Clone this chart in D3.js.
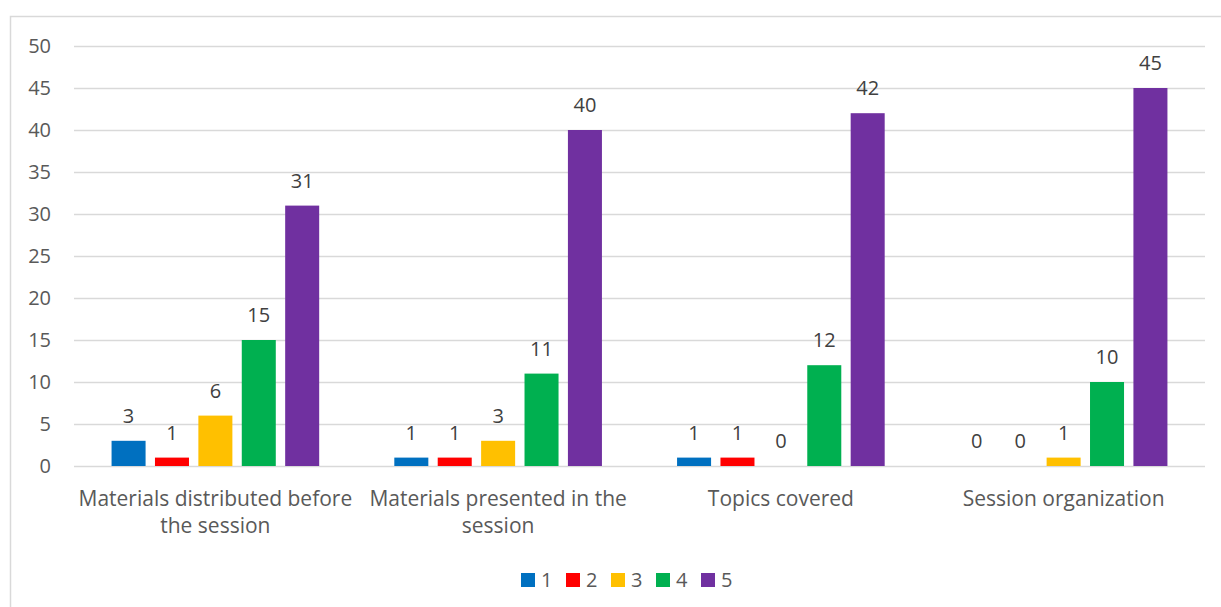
<!DOCTYPE html>
<html>
<head>
<meta charset="utf-8">
<script src="https://cdn.jsdelivr.net/npm/d3@7"></script>
<style>
  html, body { margin: 0; padding: 0; background: #fff; }
  svg { display: block; }
  text { font-family: "Open Sans", "Liberation Sans", sans-serif; }
</style>
</head>
<body>
<svg id="chart" width="1221" height="607"></svg>
<script>
// Survey ratings (1 = lowest, 5 = highest) per session aspect
const categories = [
  ["Materials distributed before", "the session"],
  ["Materials presented in the", "session"],
  ["Topics covered"],
  ["Session organization"]
];
const seriesNames = ["1", "2", "3", "4", "5"];
const seriesColors = ["#0070C0", "#FF0000", "#FFC000", "#00B050", "#7030A0"];
const rating1 = [3, 1, 1, 0];
const rating2 = [1, 1, 1, 0];
const rating3 = [6, 3, 0, 1];
const rating4 = [15, 11, 12, 10];
const rating5 = [31, 40, 42, 45];
const yTicks = [0, 5, 10, 15, 20, 25, 30, 35, 40, 45, 50];

const series = [rating1, rating2, rating3, rating4, rating5];

const svg = d3.select("#chart");
const W = 1221, H = 607;

// chart frame
svg.append("rect")
  .attr("x", 10.5).attr("y", 16.5)
  .attr("width", W + 10).attr("height", H)
  .attr("fill", "#fff").attr("stroke", "#D9D9D9").attr("stroke-width", 1.5);

const plot = { left: 74, right: 1205, top: 46, bottom: 466 };

const y = d3.scaleLinear().domain([0, 50]).range([plot.bottom, plot.top]);
const x0 = d3.scaleBand().domain(d3.range(categories.length))
  .range([plot.left, plot.right]).paddingInner(0).paddingOuter(0);
const band = x0.bandwidth();
const step = band * 0.1535;
const barW = band * 0.1203;
const x1 = d3.scaleBand().domain(d3.range(series.length))
  .range([band / 2 - 2 * step - barW / 2, band / 2 + 2 * step + barW / 2])
  .paddingInner(1 - barW / step).paddingOuter(0);

// gridlines
const grid = d3.axisLeft(y).tickValues(yTicks).tickSize(-(plot.right - plot.left)).tickFormat(d => d);
const gAxis = svg.append("g").attr("transform", `translate(${plot.left},0)`).call(grid);
gAxis.select(".domain").remove();
gAxis.selectAll(".tick line").attr("stroke", "#D9D9D9").attr("stroke-width", 1.5);
gAxis.selectAll(".tick text")
  .attr("x", -23).attr("fill", "#595959").attr("font-size", 20)
  .attr("text-anchor", "end");

// bars
const groups = svg.append("g").selectAll("g")
  .data(categories)
  .join("g")
  .attr("transform", (d, i) => `translate(${x0(i)},0)`);

groups.each(function(cat, ci) {
  const g = d3.select(this);
  series.forEach((vals, si) => {
    const v = vals[ci];
    const bx = x1(si);
    g.append("rect")
      .attr("x", bx).attr("width", x1.bandwidth())
      .attr("y", y(v)).attr("height", y(0) - y(v))
      .attr("fill", seriesColors[si]);
    g.append("text")
      .attr("x", bx + x1.bandwidth() / 2)
      .attr("y", y(v) - 18)
      .attr("text-anchor", "middle")
      .attr("fill", "#404040").attr("font-size", 20)
      .text(v);
  });
  // category label
  const t = g.append("text")
    .attr("x", band / 2).attr("y", 506)
    .attr("text-anchor", "middle")
    .attr("fill", "#595959").attr("font-size", 21);
  cat.forEach((line, li) => {
    t.append("tspan").attr("x", band / 2).attr("dy", li === 0 ? 0 : 27).text(line);
  });
});

// legend
const legend = svg.append("g").attr("transform", "translate(521,573)");
seriesNames.forEach((name, i) => {
  const lg = legend.append("g").attr("transform", `translate(${i * 45},0)`);
  lg.append("rect").attr("width", 14).attr("height", 14).attr("fill", seriesColors[i]);
  lg.append("text").attr("x", 20).attr("y", 14)
    .attr("fill", "#595959").attr("font-size", 20).text(name);
});
</script>
</body>
</html>
